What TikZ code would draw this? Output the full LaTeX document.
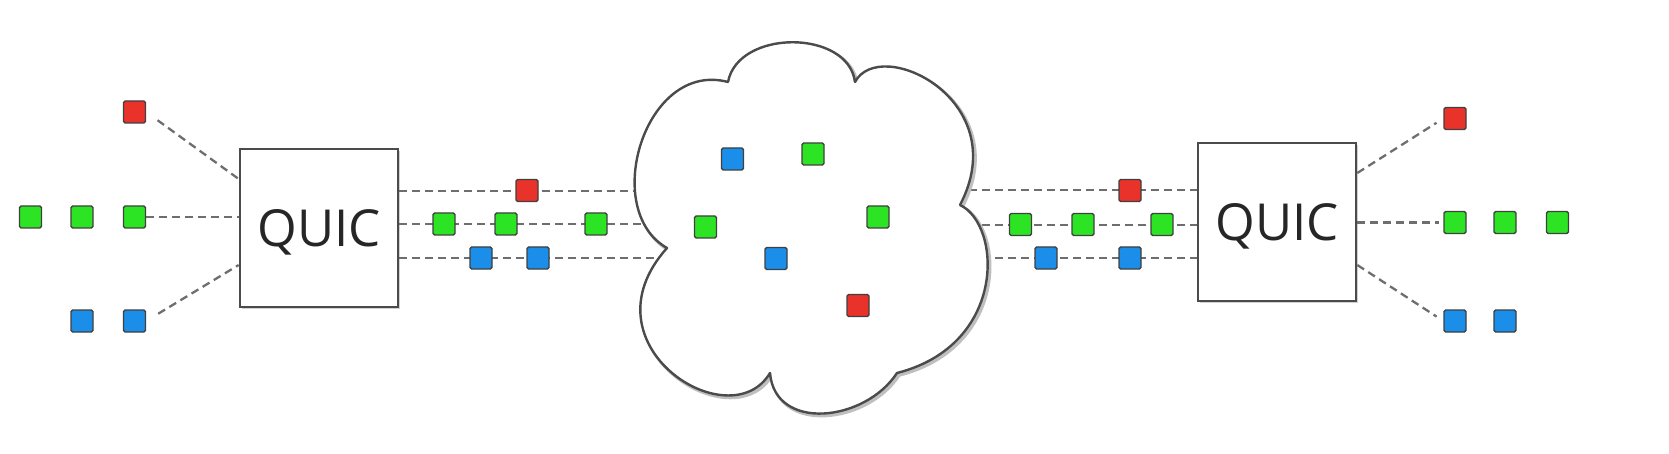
\documentclass[tikz,border=0pt]{standalone}
\usepackage{fontspec}
\setmainfont{Open Sans}
\usetikzlibrary{backgrounds,shadows}
\definecolor{qred}{RGB}{232,50,42}
\definecolor{qgreen}{RGB}{44,228,36}
\definecolor{qblue}{RGB}{26,142,232}
\definecolor{qline}{RGB}{110,110,110}
\definecolor{qedge}{RGB}{75,75,75}
\tikzset{
  pkt/.style={minimum size=11pt, inner sep=0pt, draw=black!75, line width=0.7pt, rounded corners=0.8pt},
  rp/.style={pkt, fill=qred},
  gp/.style={pkt, fill=qgreen},
  bp/.style={pkt, fill=qblue},
  quicbox/.style={draw=qedge, line width=1.3pt, fill=white, minimum size=79pt, inner sep=0pt,
    font=\fontsize{25.5}{29}\selectfont, text=black!85, text depth=0pt,
    drop shadow={shadow xshift=1pt, shadow yshift=-1pt, opacity=0.3, fill=black!60}},
  dline/.style={draw=qline, dash pattern=on 4pt off 2.5pt, line width=1.15pt},
  cloudline/.style={draw=qedge, line width=1.2pt, fill=white, line join=round},
  cloudshade/.style={draw=black!25, line width=1.8pt, line join=round},
}
\def\cloudpath{(667,248) .. controls (600,210) and (645,60) .. (728,82)
  .. controls (738,29) and (848,29) .. (855,82)
  .. controls (880,35) and (1015,100) .. (960,205)
  .. controls (1002,225) and (1007,345) .. (897,373)
  .. controls (865,422) and (775,432) .. (770,373)
  .. controls (730,440) and (580,345) .. (667,248) -- cycle}
\begin{document}
\begin{tikzpicture}[x=0.5pt,y=-0.5pt]
\useasboundingbox (0,0) rectangle (1669,454);
% QUIC boxes
\node[quicbox] (lbox) at (319,228) {QUIC};
\node[quicbox] (rbox) at (1277,222) {QUIC};
% left outer packets
\node[rp] (lr1) at (134.5,112) {};
\node[gp] (lg1) at (30.5,217) {};
\node[gp] (lg2) at (82,217) {};
\node[gp] (lg3) at (134.5,217) {};
\node[bp] (lb1) at (82,321) {};
\node[bp] (lb2) at (134.5,321) {};
% middle left packets
\node[rp] (mlr1) at (527,190.5) {};
\node[gp] (mlg1) at (444,224) {};
\node[gp] (mlg2) at (506,224) {};
\node[gp] (mlg3) at (596,224) {};
\node[bp] (mlb1) at (481,258) {};
\node[bp] (mlb2) at (538,258) {};
% cloud packets
\node[bp] (cb1) at (732.5,159) {};
\node[gp] (cg1) at (813,154) {};
\node[gp] (cg2) at (705.5,227) {};
\node[gp] (cg3) at (878,217) {};
\node[bp] (cb2) at (776,258.5) {};
\node[rp] (cr1) at (858,305.5) {};
% middle right packets
\node[rp] (mrr1) at (1130,190.5) {};
\node[gp] (mrg1) at (1020.5,224.5) {};
\node[gp] (mrg2) at (1083,224.5) {};
\node[gp] (mrg3) at (1162,224.5) {};
\node[bp] (mrb1) at (1046,258) {};
\node[bp] (mrb2) at (1130,258) {};
% right outer packets
\node[rp] (rr1) at (1455,118.5) {};
\node[gp] (rg1) at (1455,222.5) {};
\node[gp] (rg2) at (1505,222.5) {};
\node[gp] (rg3) at (1557.5,222.5) {};
\node[bp] (rb1) at (1455,321) {};
\node[bp] (rb2) at (1505,321) {};
% anchor points inside the cloud
\coordinate (cin1) at (700,191);
\coordinate (cin2) at (700,224);
\coordinate (cin3) at (700,258);
\coordinate (cout1) at (930,190);
\coordinate (cout2) at (930,225);
\coordinate (cout3) at (930,258);
\begin{pgfonlayer}{background}
  % left fan-in
  \draw[dline, shorten <=7pt] (lr1.east) -- (lbox.west |- 0,179);
  \draw[dline] (lg3.east) -- (lg3.east -| lbox.west);
  \draw[dline, shorten <=7pt] (lb2.east) -- (lbox.west |- 0,265);
  % left box to cloud
  \draw[dline] (lbox.east |- 0,191) -- (cin1);
  \draw[dline] (lbox.east |- 0,224) -- (cin2);
  \draw[dline] (lbox.east |- 0,258) -- (cin3);
  % cloud to right box
  \draw[dline] (cout1) -- (rbox.west |- 0,190);
  \draw[dline] (cout2) -- (rbox.west |- 0,225);
  \draw[dline] (cout3) -- (rbox.west |- 0,258);
  % right fan-out
  \draw[dline, shorten >=4pt] (rbox.east |- 0,173) -- (rr1.west);
  \draw[dline, shorten >=2pt] (rg1.west -| rbox.east) -- (rg1.west);
  \draw[dline, shorten >=4pt] (rbox.east |- 0,265) -- (rb1.west);
  % cloud
  \draw[cloudshade, shift={(2,2)}] \cloudpath;
  \path[cloudline] \cloudpath;
\end{pgfonlayer}
\end{tikzpicture}
\end{document}
